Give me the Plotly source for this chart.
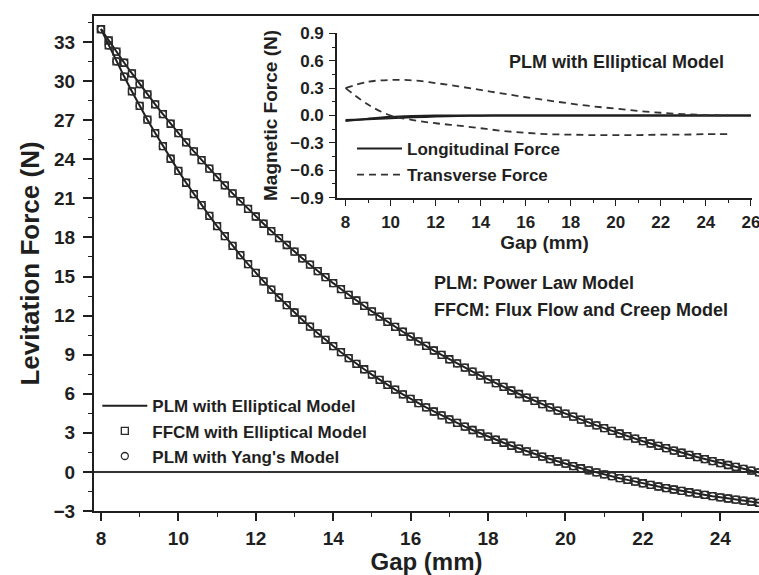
import plotly.graph_objects as go

# ---- main panel: levitation force vs. gap ----
gap_mm = [8.0, 8.2, 8.4, 8.6, 8.8, 9.0, 9.2, 9.4, 9.6, 9.8,
          10.0, 10.2, 10.4, 10.6, 10.8, 11.0, 11.2, 11.4, 11.6, 11.8,
          12.0, 12.2, 12.4, 12.6, 12.8, 13.0, 13.2, 13.4, 13.6, 13.8,
          14.0, 14.2, 14.4, 14.6, 14.8, 15.0, 15.2, 15.4, 15.6, 15.8,
          16.0, 16.2, 16.4, 16.6, 16.8, 17.0, 17.2, 17.4, 17.6, 17.8,
          18.0, 18.2, 18.4, 18.6, 18.8, 19.0, 19.2, 19.4, 19.6, 19.8,
          20.0, 20.2, 20.4, 20.6, 20.8, 21.0, 21.2, 21.4, 21.6, 21.8,
          22.0, 22.2, 22.4, 22.6, 22.8, 23.0, 23.2, 23.4, 23.6, 23.8,
          24.0, 24.2, 24.4, 24.6, 24.8, 25.0]

force_upper = [34.00, 33.12, 32.26, 31.41, 30.59, 29.78, 28.99, 28.22, 27.47, 26.73,
               26.01, 25.30, 24.61, 23.94, 23.28, 22.63, 22.00, 21.38, 20.78, 20.19,
               19.61, 19.05, 18.49, 17.95, 17.42, 16.91, 16.40, 15.91, 15.42, 14.95,
               14.49, 14.04, 13.59, 13.16, 12.74, 12.32, 11.92, 11.52, 11.14, 10.76,
               10.39, 10.02, 9.67, 9.32, 8.98, 8.65, 8.33, 8.01, 7.70, 7.40,
               7.10, 6.81, 6.53, 6.25, 5.98, 5.71, 5.45, 5.20, 4.95, 4.71,
               4.47, 4.24, 4.01, 3.79, 3.57, 3.36, 3.15, 2.95, 2.75, 2.55,
               2.36, 2.18, 2.00, 1.82, 1.64, 1.47, 1.31, 1.14, 0.99, 0.83,
               0.68, 0.53, 0.38, 0.24, 0.10, -0.04]

force_lower = [34.00, 32.74, 31.52, 30.35, 29.21, 28.10, 27.04, 26.01, 25.01, 24.04,
               23.11, 22.20, 21.33, 20.48, 19.66, 18.87, 18.10, 17.36, 16.65, 15.95,
               15.28, 14.63, 14.00, 13.39, 12.80, 12.24, 11.68, 11.15, 10.64, 10.14,
               9.66, 9.19, 8.74, 8.30, 7.88, 7.47, 7.07, 6.69, 6.32, 5.96,
               5.61, 5.28, 4.95, 4.64, 4.34, 4.04, 3.76, 3.48, 3.22, 2.96,
               2.71, 2.47, 2.24, 2.01, 1.79, 1.58, 1.38, 1.18, 0.99, 0.80,
               0.63, 0.45, 0.28, 0.12, -0.04, -0.19, -0.33, -0.48, -0.61, -0.75,
               -0.87, -1.00, -1.12, -1.24, -1.35, -1.46, -1.56, -1.66, -1.76, -1.86,
               -1.95, -2.04, -2.13, -2.21, -2.29, -2.37]

main_labels = ["PLM with Elliptical Model", "FFCM with Elliptical Model", "PLM with Yang's Model"]

# ---- inset: magnetic (guidance) forces ----
inset_gap_long = [8, 9, 10, 11, 12, 13, 14, 15, 16, 17, 18, 19, 20, 21, 22, 23, 24, 25, 26]
long_force_a = [-0.05, -0.04, -0.03, -0.02, -0.012, -0.006, -0.002, 0, 0, 0, 0, 0, 0, 0, 0, 0, 0, 0, 0]
long_force_b = [-0.06, -0.035, -0.015, -0.005, 0, 0, 0, 0, 0, 0, 0, 0, 0, 0, 0, 0, 0, 0, 0]

inset_gap_trans = [8, 9, 10, 11, 12, 13, 14, 15, 16, 17, 18, 19, 20, 21, 22, 23, 24, 25]
trans_force_a = [0.30, 0.37, 0.39, 0.385, 0.355, 0.32, 0.28, 0.24, 0.20, 0.165,
                 0.13, 0.10, 0.075, 0.05, 0.03, 0.015, 0.005, 0.0]
trans_force_b = [0.30, 0.12, 0.0, -0.05, -0.085, -0.11, -0.14, -0.17, -0.19, -0.205,
                 -0.21, -0.215, -0.215, -0.215, -0.21, -0.21, -0.205, -0.205]

inset_labels = ["Longitudinal Force", "Transverse Force"]

INK = "#1f1f1f"
FONT = "Liberation Sans, Arial, sans-serif"

fig = go.Figure()

# solid model lines
for i, ys in enumerate([force_upper, force_lower]):
    fig.add_trace(go.Scatter(
        x=gap_mm, y=ys, mode="lines", line=dict(color=INK, width=2),
        name=main_labels[0], legendgroup="g0", showlegend=(i == 0)))
# square markers
for i, ys in enumerate([force_upper, force_lower]):
    fig.add_trace(go.Scatter(
        x=gap_mm, y=ys, mode="markers",
        marker=dict(symbol="square-open", size=7, color="#2a2a2a", line=dict(width=1.3)),
        name=main_labels[1], legendgroup="g1", showlegend=(i == 0)))
# circle markers
for i, ys in enumerate([force_upper, force_lower]):
    fig.add_trace(go.Scatter(
        x=gap_mm, y=ys, mode="markers",
        marker=dict(symbol="circle-open", size=7, color="#2a2a2a", line=dict(width=1.3)),
        name=main_labels[2], legendgroup="g2", showlegend=(i == 0)))

# inset curves
for i, ys in enumerate([long_force_a, long_force_b]):
    fig.add_trace(go.Scatter(
        x=inset_gap_long, y=ys, mode="lines", line=dict(color=INK, width=2, shape="spline"),
        name=inset_labels[0], legendgroup="h0", showlegend=(i == 0),
        xaxis="x2", yaxis="y2", legend="legend2"))
for i, ys in enumerate([trans_force_a, trans_force_b]):
    fig.add_trace(go.Scatter(
        x=inset_gap_trans, y=ys, mode="lines",
        line=dict(color="#333333", width=1.8, dash="7px,5px", shape="spline"),
        name=inset_labels[1], legendgroup="h1", showlegend=(i == 0),
        xaxis="x2", yaxis="y2", legend="legend2"))

tick_font = dict(family=FONT, size=19, color=INK, weight="bold")
inset_tick_font = dict(family=FONT, size=17, color=INK, weight="bold")

fig.update_layout(
    width=759, height=575,
    margin=dict(l=94, r=0, t=16, b=64, autoexpand=False),
    paper_bgcolor="white", plot_bgcolor="white",
    font=dict(family=FONT, size=17, color=INK),
    xaxis=dict(
        range=[7.82, 25.0], tick0=0, dtick=2, ticks="outside", ticklen=8, tickwidth=1.5,
        tickcolor=INK, showline=True, linewidth=2, linecolor=INK, mirror=True,
        showgrid=False, zeroline=False, tickfont=tick_font, ticklabelstandoff=1,
        automargin=False,
        minor=dict(dtick=1, ticks="outside", ticklen=4, tickwidth=1.2, tickcolor=INK),
        title=dict(text="Gap (mm)", font=dict(family=FONT, size=24, color=INK, weight="bold"),
                   standoff=0),
    ),
    yaxis=dict(
        range=[-3, 35], tick0=0, dtick=3, ticks="outside", ticklen=9, tickwidth=1.5,
        tickcolor=INK, showline=True, linewidth=2, linecolor=INK, mirror=False,
        showgrid=False, zeroline=True, zerolinecolor="#333333", zerolinewidth=2,
        tickfont=tick_font, ticklabelstandoff=4, automargin=False,
        minor=dict(dtick=1.5, ticks="outside", ticklen=4, tickwidth=1.2, tickcolor=INK),
        title=dict(text="Levitation Force (N)",
                   font=dict(family=FONT, size=26, color=INK, weight="bold"), standoff=6),
    ),
    xaxis2=dict(
        domain=[0.3654, 0.9895], anchor="y2", range=[7.62, 26.05], tick0=0, dtick=2,
        ticks="outside", ticklen=6, tickwidth=1.3, tickcolor=INK,
        showline=True, linewidth=1.5, linecolor=INK, showgrid=False, zeroline=False,
        tickfont=inset_tick_font, ticklabelstandoff=2, ticklabeloverflow="allow",
        automargin=False,
        minor=dict(dtick=1, ticks="outside", ticklen=3, tickwidth=1, tickcolor=INK),
        title=dict(text="Gap (mm)", font=dict(family=FONT, size=19, color=INK, weight="bold"),
                   standoff=0),
    ),
    yaxis2=dict(
        domain=[0.6323, 0.9657], anchor="x2", range=[-0.905, 0.905],
        tickvals=[-0.9, -0.6, -0.3, 0.0, 0.3, 0.6, 0.9], tickformat=".1f",
        ticks="outside", ticklen=6, tickwidth=1.3, tickcolor=INK,
        showline=True, linewidth=1.5, linecolor=INK, showgrid=False, zeroline=False,
        tickfont=inset_tick_font, ticklabelstandoff=2, automargin=False,
        minor=dict(tickvals=[-0.75, -0.45, -0.15, 0.15, 0.45, 0.75], ticks="outside",
                   ticklen=3, tickwidth=1, tickcolor=INK),
        title=dict(text="Magnetic Force (N)",
                   font=dict(family=FONT, size=19, color=INK, weight="bold"), standoff=8),
    ),
    legend=dict(
        x=0.005, y=0.248, xanchor="left", yanchor="top", bgcolor="rgba(0,0,0,0)",
        font=dict(family=FONT, size=17, color=INK, weight="bold"),
        itemwidth=45, tracegroupgap=0, traceorder="grouped",
    ),
    legend2=dict(
        x=0.388, y=0.7677, xanchor="left", yanchor="top", bgcolor="rgba(0,0,0,0)",
        font=dict(family=FONT, size=17, color=INK, weight="bold"),
        itemwidth=45, tracegroupgap=1, traceorder="grouped",
    ),
    annotations=[
        dict(text="PLM with Elliptical Model", xref="paper", yref="paper", x=0.785, y=0.907,
             xanchor="center", yanchor="middle", showarrow=False,
             font=dict(family=FONT, size=18, color=INK, weight="bold")),
        dict(text="PLM: Power Law Model", xref="paper", yref="paper", x=0.508, y=0.4606,
             xanchor="left", yanchor="middle", showarrow=False,
             font=dict(family=FONT, size=18, color=INK, weight="bold")),
        dict(text="FFCM: Flux Flow and Creep Model", xref="paper", yref="paper", x=0.508,
             y=0.406, xanchor="left", yanchor="middle", showarrow=False,
             font=dict(family=FONT, size=18, color=INK, weight="bold")),
    ],
)

fig.write_html("out.html")
